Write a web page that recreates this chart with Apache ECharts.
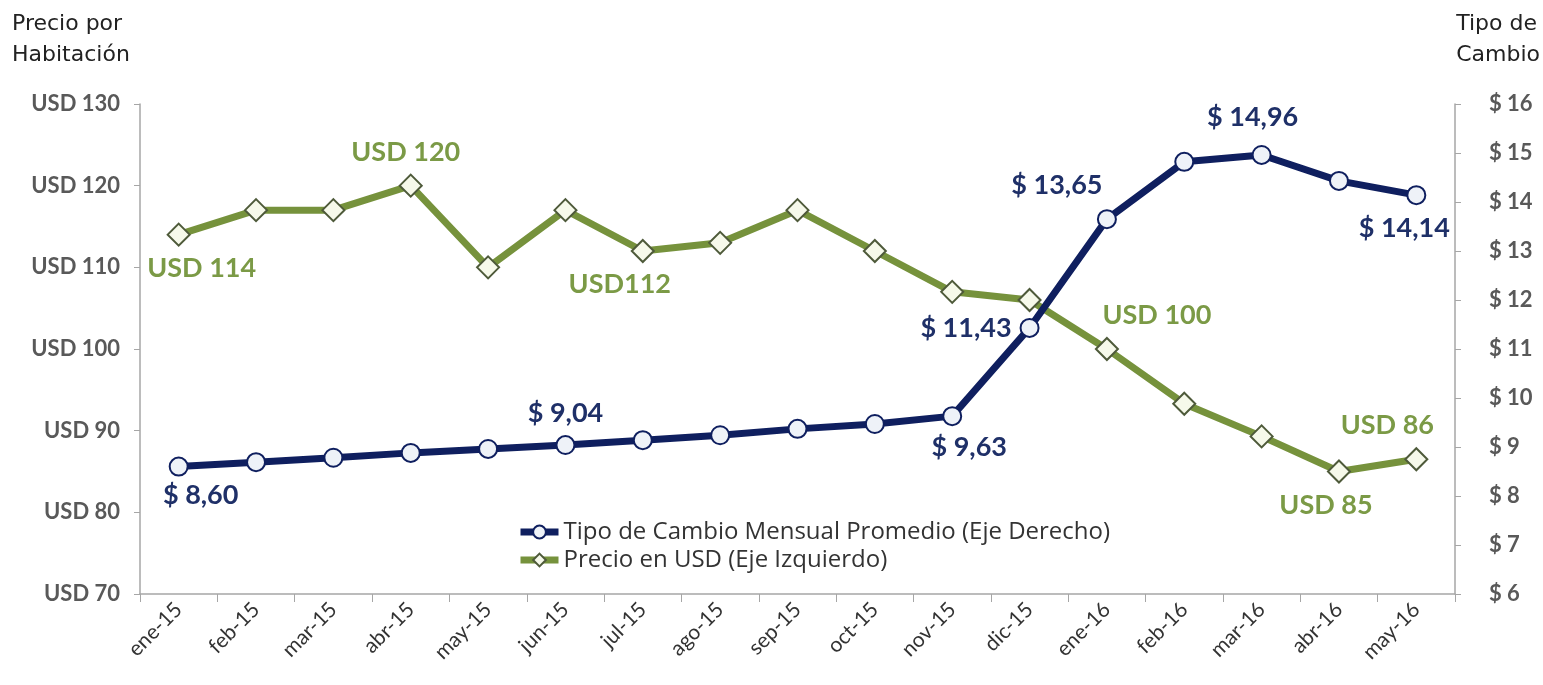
<!DOCTYPE html>
<html>
<head>
<meta charset="utf-8">
<script src="https://cdn.jsdelivr.net/npm/echarts@6/dist/echarts.min.js"></script>
<style>
  html, body { margin: 0; padding: 0; background: #fff; }
  #chart { width: 1543px; height: 685px; }
</style>
</head>
<body>
<div id="chart"></div>
<script>
// meses
var categories = ["ene-15", "feb-15", "mar-15", "abr-15", "may-15", "jun-15", "jul-15", "ago-15", "sep-15",
  "oct-15", "nov-15", "dic-15", "ene-16", "feb-16", "mar-16", "abr-16", "may-16"];

// tipo de cambio (eje derecho)
var tipoCambio = [8.60, 8.69, 8.78, 8.88, 8.96, 9.04, 9.14, 9.24, 9.37, 9.47, 9.63, 11.43, 13.65, 14.82, 14.96, 14.43, 14.14];
// precio en USD (eje izquierdo)
var precioUSD = [114, 117, 117, 120, 110, 117, 112, 113, 117, 112, 107, 106, 100, 93.3, 89.3, 85, 86.5];

// textos de etiquetas (indice -> texto)
var etiquetasCambio = { 0: "$ 8,60", 5: "$ 9,04", 10: "$ 9,63", 11: "$ 11,43", 12: "$ 13,65", 14: "$ 14,96", 16: "$ 14,14" };
var etiquetasPrecio = { 0: "USD 114", 3: "USD 120", 6: "USD112", 12: "USD 100", 15: "USD 85", 16: "USD 86" };

var leftTicks = [70, 130, 10];
var rightTicks = [6, 16, 1];

// posicion de cada etiqueta
var posCambio = {
  0: ["bottom", [22, -3]], 5: ["top", [0, 0]], 10: ["bottom", [17, 0]], 11: ["left", [0, 0]],
  12: ["top", [-50, -2]], 14: ["top", [-9, -6]], 16: ["bottom", [-12, 2]]
};
var posPrecio = {
  0: ["bottom", [23, 0]], 3: ["top", [-5, 0]], 6: ["bottom", [-23, 0]], 12: ["top", [50, 0]],
  15: ["bottom", [-13, 0]], 16: ["top", [-29, 0]]
};

var azul = "#0f1f5f";
var azulTexto = "#1f3068";
var verde = "#76923c";
var verdeTexto = "#7b9a46";

function armar(valores, textos, pos, color) {
  return valores.map(function (v, i) {
    if (!textos[i]) return { value: v };
    return {
      value: v,
      label: {
        show: true, formatter: textos[i], position: pos[i][0], offset: pos[i][1],
        color: color, fontSize: 27, fontWeight: "bold", fontFamily: "Lato", distance: 8
      }
    };
  });
}

var chart = echarts.init(document.getElementById("chart"));

var ejeLinea = { show: true, lineStyle: { color: "#a6a6a6", width: 1.5 } };
var ejeTick = { show: true, length: 6, lineStyle: { color: "#a6a6a6" } };
var etiquetaEje = { color: "#595959", fontSize: 22, fontWeight: "bold", fontFamily: "Lato" };

chart.setOption({
  animation: false,
  grid: { left: 140, right: 88, top: 104, bottom: 91 },
  graphic: [
    { type: "text", left: 12, top: 9, style: { text: "Precio por\nHabitación", fontSize: 22, lineHeight: 31, fontFamily: "DejaVu Sans", fill: "#222" } },
    { type: "text", right: 3, top: 9, style: { text: "Tipo de\nCambio", fontSize: 22, lineHeight: 31, fontFamily: "DejaVu Sans", fill: "#222", align: "right" } }
  ],
  legend: {
    orient: "vertical",
    left: 512, top: 515,
    itemWidth: 38, itemHeight: 16, itemGap: 4,
    lineStyle: { width: 7 },
    textStyle: { fontSize: 24, fontFamily: "Open Sans", color: "#333" },
    data: ["Tipo de Cambio Mensual Promedio (Eje Derecho)", "Precio en USD (Eje Izquierdo)"]
  },
  xAxis: {
    type: "category",
    data: categories,
    boundaryGap: true,
    axisLine: ejeLinea,
    axisTick: { show: true, length: 8, lineStyle: { color: "#a6a6a6" } },
    axisLabel: { rotate: 45, color: "#333", fontSize: 21, fontFamily: "Lato", margin: 12, interval: 0 }
  },
  yAxis: [
    {
      type: "value", position: "left", min: leftTicks[0], max: leftTicks[1], interval: leftTicks[2],
      axisLine: ejeLinea, axisTick: ejeTick, splitLine: { show: false },
      axisLabel: Object.assign({ formatter: "USD {value}", margin: 20 }, etiquetaEje)
    },
    {
      type: "value", position: "right", min: rightTicks[0], max: rightTicks[1], interval: rightTicks[2],
      axisLine: ejeLinea, axisTick: ejeTick, splitLine: { show: false },
      axisLabel: Object.assign({ formatter: "$ {value}", margin: 34 }, etiquetaEje)
    }
  ],
  series: [
    {
      name: "Tipo de Cambio Mensual Promedio (Eje Derecho)",
      type: "line",
      yAxisIndex: 1,
      data: armar(tipoCambio, etiquetasCambio, posCambio, azulTexto),
      symbol: "circle",
      symbolSize: 18,
      lineStyle: { color: azul, width: 7 },
      itemStyle: { color: "#eef2f8", borderColor: azul, borderWidth: 2 },
      z: 3
    },
    {
      name: "Precio en USD (Eje Izquierdo)",
      type: "line",
      yAxisIndex: 0,
      data: armar(precioUSD, etiquetasPrecio, posPrecio, verdeTexto),
      symbol: "diamond",
      symbolSize: 22,
      lineStyle: { color: verde, width: 7 },
      itemStyle: { color: "#f6f9ea", borderColor: "#4e5a3a", borderWidth: 2 },
      z: 2
    }
  ]
});
</script>
</body>
</html>
